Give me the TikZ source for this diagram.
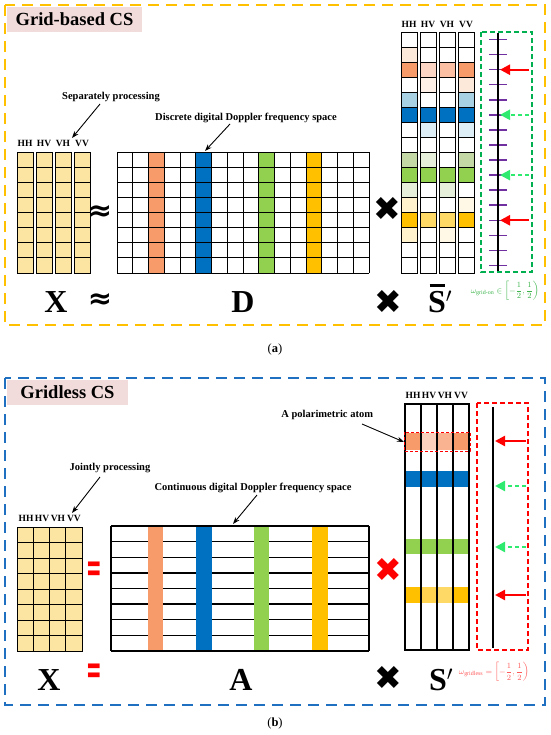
\documentclass[tikz,border=0pt]{standalone}
\usepackage{amsmath}
\usepackage{fontspec}
\setmainfont{Liberation Serif}
\newfontfamily\dejavu{DejaVu Sans}
\usetikzlibrary{arrows.meta}
\definecolor{panelOr}{HTML}{FFC000}
\definecolor{panelBl}{HTML}{1F70C1}
\definecolor{titlePink}{HTML}{F2DCDB}
\definecolor{xYel}{HTML}{FCE4A2}
\definecolor{cOr}{HTML}{F79B6B}
\definecolor{cBl}{HTML}{0070C0}
\definecolor{cGr}{HTML}{92D050}
\definecolor{cGo}{HTML}{FFC000}
\definecolor{oL}{HTML}{FDE9D9}
\definecolor{oM}{HTML}{FCD5C5}
\definecolor{oM2}{HTML}{FBBFA3}
\definecolor{oVL}{HTML}{FEF0E7}
\definecolor{bL}{HTML}{A8D2E4}
\definecolor{bVL}{HTML}{DDEEF7}
\definecolor{gL}{HTML}{C4D8A6}
\definecolor{gVL}{HTML}{E5EFD9}
\definecolor{yVL}{HTML}{FFF2CC}
\definecolor{yVL2}{HTML}{FFF8E6}
\definecolor{yL}{HTML}{FFD966}
\definecolor{yM}{HTML}{FFD34F}
\definecolor{oB1}{HTML}{FBD0BC}
\definecolor{oB2}{HTML}{F9B391}
\definecolor{tickPur}{HTML}{7030A0}
\definecolor{arrGr}{HTML}{2EEB70}
\definecolor{boxGr}{HTML}{00B050}
\definecolor{omGr}{HTML}{3CB44B}
\definecolor{omRd}{HTML}{FF5A5A}
\newcommand\mytitle{\fontsize{18.5}{20}\selectfont\bfseries}
\newcommand\mylab{\fontsize{10.5}{12}\selectfont\bfseries}
\newcommand\mypol{\fontsize{9.5}{11}\selectfont\bfseries}
\newcommand\mybig{\fontsize{32}{34}\selectfont\bfseries}
\begin{document}
\begin{tikzpicture}[x=1pt,y=-1pt,
  every node/.style={inner sep=0pt,outer sep=0pt},
  panelA/.style={draw=panelOr,line width=2.6pt,dash pattern=on 11pt off 7pt},
  panelB/.style={draw=panelBl,line width=2.6pt,dash pattern=on 11pt off 7pt},
  titlebox/.style={fill=titlePink,font=\mytitle,minimum width=135pt,minimum height=25pt,anchor=north west},
  lab/.style={font=\mylab},
  pol/.style={font=\mypol},
  biglet/.style={font=\mybig,anchor=base},
  cellline/.style={draw=black,line width=0.9pt},
  gline/.style={draw=black,line width=0.9pt},
  annot/.style={draw=black,line width=0.9pt,-{Stealth[length=7pt,width=5pt]}},
  redarr/.style={draw=red,line width=2.3pt,-{Triangle[length=10pt,width=10pt]}},
  grarr/.style={draw=arrGr,line width=2.3pt,dash pattern=on 4pt off 3pt,-{Triangle[length=10pt,width=10pt]}},
  tickmark/.style={draw=tickPur,line width=1.5pt},
  crosssym/.style={font=\dejavu\fontsize{33}{33}\selectfont},
  approxsym/.style={font=\dejavu\bfseries\fontsize{29}{29}\selectfont},
  eqsym/.style={text=red,font=\dejavu\bfseries\fontsize{30}{30}\selectfont},
  capt/.style={font=\fontsize{12.5}{14}\selectfont}
]
\useasboundingbox (0,0) rectangle (550,735);

%================ Panel (a) =================
\draw[panelA] (5,5) rectangle (545,325);
\node[titlebox] (titA) at (7,7) {Grid-based CS};

% X matrix (a)
\foreach \k in {0,...,3}{
  \foreach \r in {0,...,7}{
    \draw[cellline,fill=xYel] ({17+19*\k},{152+15.125*\r}) rectangle +(16,15.125);
  }
}
\node[pol] (hhA) at (25,143) {HH};
\node[pol] (hvA) at (44,143) {HV};
\node[pol] (vhA) at (63,143) {VH};
\node[pol] (vvA) at (82,143) {VV};
\node[lab] (sepA) at (111,97) {Separately processing};
\coordinate (sepS) at (100,104);
\coordinate (sepE) at (72,138);
\draw[annot] (sepS) -- (sepE);

\node[approxsym] (apA1) at (100,213) {≈};

% D matrix
\foreach \c/\col in {2/cOr,5/cBl,9/cGr,12/cGo}{
  \fill[\col] ({117+15.75*\c},152) rectangle +(15.75,121);
}
\foreach \i in {0,...,16}{
  \draw[gline] ({117+15.75*\i},152) -- ({117+15.75*\i},273);
}
\foreach \j in {0,...,8}{
  \draw[gline] (117,{152+15.125*\j}) -- (369,{152+15.125*\j});
}
\node[lab] (discA) at (246,118) {Discrete digital Doppler frequency space};
\coordinate (discS) at (230,124);
\coordinate (discE) at (205,151);
\draw[annot] (discS) -- (discE);

\node[crosssym] (crA1) at (387,209) {✖};

% S-bar matrix (a)
\foreach \r/\ca/\cb/\cc/\cd in {
  0/white/white/white/white,
  1/oL/white/white/white,
  2/cOr/oM/oM2/cOr,
  3/white/oVL/white/oL,
  4/bL/white/white/bL,
  5/cBl/cBl/cBl/cBl,
  6/white/bVL/white/bVL,
  7/white/white/white/white,
  8/gL/gVL/white/gL,
  9/cGr/cGr/cGr/cGr,
  10/gVL/white/gVL/white,
  11/yVL/white/white/yVL2,
  12/cGo/yL/yL/cGo,
  13/yVL/white/yVL2/white,
  14/white/white/white/white,
  15/white/white/white/white}{
  \draw[cellline,fill=\ca] (401,{32+15.0625*\r}) rectangle +(16,15.0625);
  \draw[cellline,fill=\cb] (420,{32+15.0625*\r}) rectangle +(16,15.0625);
  \draw[cellline,fill=\cc] (439,{32+15.0625*\r}) rectangle +(16,15.0625);
  \draw[cellline,fill=\cd] (458,{32+15.0625*\r}) rectangle +(16,15.0625);
}
\node[pol] (hhS) at (409,24) {HH};
\node[pol] (hvS) at (428,24) {HV};
\node[pol] (vhS) at (447,24) {VH};
\node[pol] (vvS) at (466,24) {VV};

% grid axis (a)
\draw[draw=boxGr,line width=1.4pt,dash pattern=on 5pt off 3pt] (481,32) rectangle (532,272);
\foreach \r in {0,...,15}{
  \draw[tickmark] (489,{32+15.0625*(\r+0.5)}) -- (507,{32+15.0625*(\r+0.5)});
}
\draw[line width=2.2pt] (498,33) -- (498,271);
\coordinate (raS1) at (529,69.7);  \coordinate (raE1) at (500,69.7);
\coordinate (gaS1) at (529,114.8); \coordinate (gaE1) at (500,114.8);
\coordinate (gaS2) at (529,175.1); \coordinate (gaE2) at (500,175.1);
\coordinate (raS2) at (529,220.3); \coordinate (raE2) at (500,220.3);
\draw[redarr] (raS1) -- (raE1);
\draw[grarr] (gaS1) -- (gaE1);
\draw[grarr] (gaS2) -- (gaE2);
\draw[redarr] (raS2) -- (raE2);
\node[text=omGr,font=\fontsize{8.5}{10}\selectfont] (omA) at (505,291)
  {$\omega_{\text{grid-on}}\in\left[-\dfrac{1}{2},\dfrac{1}{2}\right)$};

% bottom equation (a)
\node[biglet] (XA) at (56,312) {X};
\node[approxsym] (apA2) at (100,301) {≈};
\node[biglet] (DA) at (243,312) {D};
\node[crosssym] (crA2) at (388,302) {✖};
\node[biglet] (SA) at (440,312) {\rlap{\kern1.5pt\rule[25pt]{15.5pt}{2.6pt}}S$'$};

\node[capt] (capA) at (275,349) {(\textbf{a})};

%================ Panel (b) =================
\draw[panelB] (5,378) rectangle (545,705);
\node[titlebox,minimum width=121pt] (titB) at (7,380) {Gridless CS};

% X matrix (b)
\foreach \k in {0,...,3}{
  \foreach \r in {0,...,7}{
    \draw[cellline,fill=xYel] ({17+16.25*\k},{527+15.5*\r}) rectangle +(16.25,15.5);
  }
}
\node[pol] (hhB) at (26,518) {HH};
\node[pol] (hvB) at (42,518) {HV};
\node[pol] (vhB) at (58,518) {VH};
\node[pol] (vvB) at (74,518) {VV};
\node[lab] (joiB) at (110,468) {Jointly processing};
\coordinate (joiS) at (100,477);
\coordinate (joiE) at (72,513);
\draw[annot] (joiS) -- (joiE);

\node[eqsym] (eqB1) at (94,572) {\scalebox{0.62}[1.35]{=}};

% A matrix
\foreach \j in {0,...,8}{
  \draw[line width=1.3pt] (111,{526+15.625*\j}) -- (369,{526+15.625*\j});
}
\draw[line width=1.1pt] (111,526) -- (111,651);
\draw[line width=1.1pt] (369,526) -- (369,651);
\fill[cOr] (148,527) rectangle (163,650);
\fill[cBl] (196,527) rectangle (212,650);
\fill[cGr] (254,527) rectangle (269,650);
\fill[cGo] (312,527) rectangle (328,650);
\node[lab] (contB) at (253,488) {Continuous digital Doppler frequency space};
\coordinate (contS) at (257,495);
\coordinate (contE) at (233,524);
\draw[annot] (contS) -- (contE);

\node[crosssym,text=red] (crB1) at (388,570) {✖};

% S' matrix (b)
\fill[cOr] (405,433) rectangle (421,450);
\fill[oB1] (421,433) rectangle (437,450);
\fill[oB2] (437,433) rectangle (453,450);
\fill[cOr] (453,433) rectangle (469,450);
\fill[cBl] (405,471) rectangle (469,487);
\fill[cGr] (405,539) rectangle (469,554);
\fill[cGo] (405,587) rectangle (421,603);
\fill[yM] (421,587) rectangle (437,603);
\fill[yL] (437,587) rectangle (453,603);
\fill[cGo] (453,587) rectangle (469,603);
\draw[line width=1.1pt] (405,404) rectangle (469,650);
\foreach \xx in {421,437,453}{
  \draw[line width=1.1pt] (\xx,404) -- (\xx,650);
}
\draw[draw=red,line width=1pt,dash pattern=on 3pt off 2pt] (404,432) rectangle (470,451);
\node[pol] (hhT) at (413,395) {HH};
\node[pol] (hvT) at (429,395) {HV};
\node[pol] (vhT) at (445,395) {VH};
\node[pol] (vvT) at (461,395) {VV};
\node[lab,anchor=east] (atomB) at (373,415) {A polarimetric atom};
\coordinate (atomS) at (362,424);
\coordinate (atomE) at (404,442);
\draw[annot] (atomS) -- (atomE);

% continuous axis (b)
\draw[draw=red,line width=1.4pt,dash pattern=on 5pt off 3pt] (477,403) rectangle (528,650);
\draw[line width=2.5pt] (493,407) -- (493,648);
\coordinate (rbS1) at (526,441); \coordinate (rbE1) at (495,441);
\coordinate (gbS1) at (526,486); \coordinate (gbE1) at (495,486);
\coordinate (gbS2) at (526,547); \coordinate (gbE2) at (495,547);
\coordinate (rbS2) at (526,595); \coordinate (rbE2) at (495,595);
\draw[redarr] (rbS1) -- (rbE1);
\draw[grarr] (gbS1) -- (gbE1);
\draw[grarr] (gbS2) -- (gbE2);
\draw[redarr] (rbS2) -- (rbE2);
\node[text=omRd,font=\fontsize{8.5}{10}\selectfont] (omB) at (494,672)
  {$\omega_{\text{gridless}}=\left[-\dfrac{1}{2},\dfrac{1}{2}\right)$};

% bottom equation (b)
\node[biglet] (XB) at (49,690) {X};
\node[eqsym] (eqB2) at (94,674) {\scalebox{0.62}[1.35]{=}};
\node[biglet] (AB) at (241,690) {A};
\node[crosssym] (crB2) at (388,678) {✖};
\node[biglet] (SB) at (441,690) {S$'$};

\node[capt] (capB) at (275,723) {(\textbf{b})};
\end{tikzpicture}
\end{document}
